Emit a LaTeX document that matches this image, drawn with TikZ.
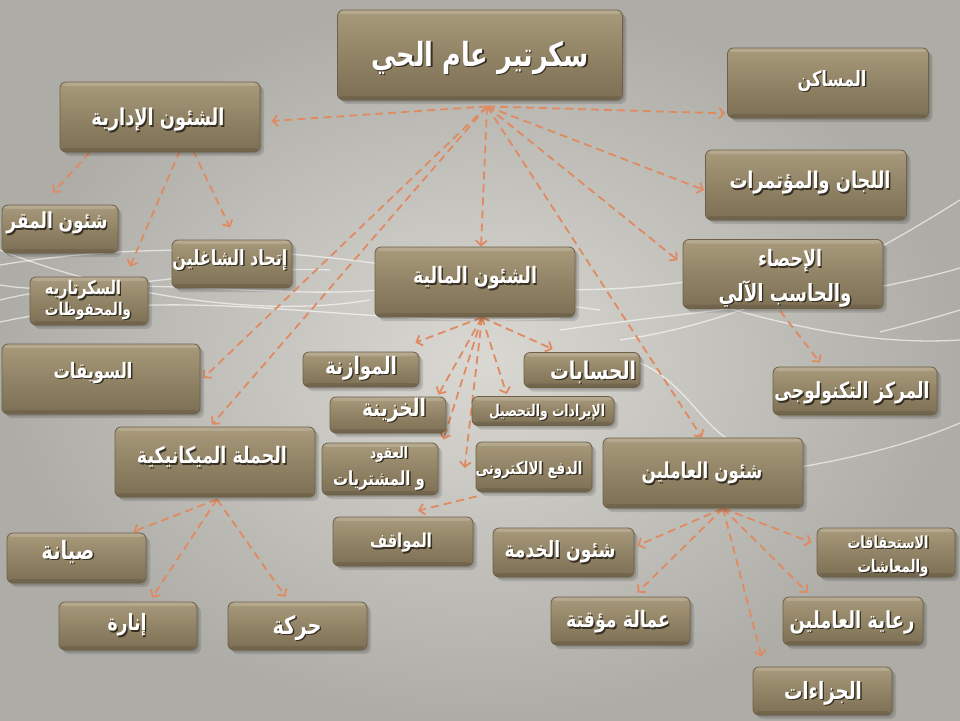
\documentclass[tikz,border=0pt]{standalone}
\usepackage{fontspec}
\usepackage{graphicx}
\newfontfamily\arfont[Script=Arabic]{DejaVu Sans}
\TeXXeTstate=1
\usetikzlibrary{arrows.meta}
\definecolor{arrowc}{RGB}{224,138,98}
\definecolor{boxtop}{RGB}{168,154,123}
\definecolor{boxmid}{RGB}{145,131,101}
\definecolor{boxbot}{RGB}{124,111,84}
\definecolor{boxedge}{RGB}{108,97,72}
\definecolor{bgin}{RGB}{218,216,211}
\definecolor{bgout}{RGB}{174,172,166}
\definecolor{txshadow}{RGB}{40,34,24}
\pgfdeclarelayer{bglayer}
\pgfdeclarelayer{arrlayer}
\pgfsetlayers{bglayer,arrlayer,main}
\tikzset{
  bx/.style={rectangle, rounded corners=6pt, draw=boxedge, line width=0.8pt,
    top color=boxtop, bottom color=boxbot, middle color=boxmid, inner sep=0pt,
    preaction={draw=none, fill=black, fill opacity=0.12, transform canvas={shift={(4pt,-4pt)}}},
    preaction={draw=none, fill=black, fill opacity=0.12, transform canvas={shift={(2pt,-2pt)}}},
    path picture={
      \fill[white, opacity=0.16] (path picture bounding box.north west) rectangle ([yshift=-4pt]path picture bounding box.north east);
      \fill[black, opacity=0.10] (path picture bounding box.south west) rectangle ([yshift=4pt]path picture bounding box.south east);}},
  txt/.style={text=white, inner sep=0pt},
  txtsh/.style={text=txshadow, inner sep=0pt, opacity=0.85},
  arr/.style={draw=arrowc, line width=1.8pt, dash pattern=on 8pt off 5pt,
    -{Straight Barb[length=5pt,width=11pt]}},
  swoosh/.style={draw=white, line width=1.3pt, opacity=0.6},
}
\newcommand\AT[2]{\scalebox{1}[1.3]{\resizebox{#1pt}{!}{\arfont\bfseries #2}}}
\newcommand\boxat[5]{\node[bx, minimum width=#4pt, minimum height=#5pt] (#1) at (#2,#3) {};}
\newcommand\lab[5]{%
  \node[txtsh] (#1s) at ([shift={(1.4,1.4)}]#2,#3) {\AT{#4}{#5}};
  \node[txt] (#1) at (#2,#3) {\AT{#4}{#5}};}
\begin{document}
\begin{tikzpicture}[x=1pt,y=-1pt]
\useasboundingbox (0,0) rectangle (960,720);
\begin{pgfonlayer}{bglayer}
  \shade[inner color=bgin, outer color=bgout] (0,0) rectangle (960,720);
  \draw[swoosh] (0,265) .. controls (150,240) and (300,250) .. (420,270) .. controls (500,285) and (560,300) .. (700,280);
  \draw[swoosh] (0,300) .. controls (120,270) and (260,300) .. (380,290) .. controls (460,284) and (520,300) .. (600,310);
  \draw[swoosh] (0,322) .. controls (200,280) and (350,330) .. (560,318);
  \draw[swoosh] (0,250) .. controls (100,290) and (250,320) .. (370,300);
  \draw[swoosh] (0,285) .. controls (90,300) and (200,265) .. (330,270);
  \draw[swoosh] (560,330) .. controls (700,310) and (850,300) .. (960,268);
  \draw[swoosh] (620,340) .. controls (760,320) and (880,250) .. (960,200);
  \draw[swoosh] (640,363) .. controls (680,380) and (700,420) .. (725,437);
  \draw[swoosh] (800,467) .. controls (870,455) and (920,440) .. (960,423);
  \draw[swoosh] (880,332) .. controls (920,322) and (940,316) .. (960,310);
  \draw[swoosh] (700,300) .. controls (800,330) and (880,345) .. (960,340);
\end{pgfonlayer}

\boxat{tit}{480}{55}{285}{90}
\boxat{mas}{828}{83}{201}{70}
\boxat{idr}{160}{117}{200}{70}
\boxat{lij}{806}{185}{201}{70}
\boxat{maq}{60}{229}{116}{48}
\boxat{itt}{232}{264}{120}{48}
\boxat{sec}{89}{301}{118}{48}
\boxat{mal}{475}{282}{200}{70}
\boxat{ihs}{783}{274}{200}{69}
\boxat{suw}{101}{379}{198}{70}
\boxat{muw}{361}{369.5}{116}{35}
\boxat{his}{582}{370}{116}{35}
\boxat{kha}{388}{415}{116}{36}
\boxat{ira}{543}{411}{142}{29}
\boxat{uqu}{380}{469}{116}{52}
\boxat{daf}{534}{467}{116}{50}
\boxat{ham}{215}{462}{200}{70}
\boxat{mrk}{855}{391}{164}{48}
\boxat{aml}{703}{473}{200}{70}
\boxat{ist}{886}{552.5}{138}{49}
\boxat{ria}{853}{621}{140}{48}
\boxat{jaz}{822.5}{691}{139}{48}
\boxat{khd}{563.5}{552.5}{141}{49}
\boxat{amq}{620.5}{621}{139}{48}
\boxat{mwq}{403}{541.5}{140}{49}
\boxat{siy}{76.5}{558}{139}{50}
\boxat{inr}{128}{626}{138}{48}
\boxat{hrk}{297.5}{626}{139}{48}

\lab{ttit}{480}{58}{218}{\beginR سكرتير عام الحي\endR}
\lab{tmas}{832}{81}{69}{\beginR المساكن\endR}
\lab{tidr}{158}{120}{133}{\beginR الشئون الإدارية\endR}
\lab{tlij}{810}{183}{161}{\beginR اللجان والمؤتمرات\endR}
\lab{tmaq}{57}{223}{101}{\beginR شئون المقر\endR}
\lab{titt}{230}{260}{115}{\beginR إتحاد الشاغلين\endR}
\lab{tsec1}{83}{290}{76}{\beginR السكرتاريه\endR}
\lab{tsec2}{88}{311}{86}{\beginR والمحفوظات\endR}
\lab{tmal}{475}{278}{124}{\beginR الشئون المالية\endR}
\lab{tihs1}{790}{261}{64}{\beginR الإحصاء\endR}
\lab{tihs2}{785}{294}{133}{\beginR والحاسب الآلي\endR}
\lab{tsuw}{93}{373}{79}{\beginR السويقات\endR}
\lab{tmuw}{361}{368}{72}{\beginR الموازنة\endR}
\lab{this}{593}{372}{86}{\beginR الحسابات\endR}
\lab{tkha}{394}{410}{64}{\beginR الخزينة\endR}
\lab{tira}{547}{412}{116}{\beginR الإيرادات والتحصيل\endR}
\lab{tuqu1}{389}{454}{38}{\beginR العقود\endR}
\lab{tuqu2}{379}{480}{92}{\beginR و المشتريات\endR}
\lab{tdaf}{529}{470}{107}{\beginR الدفع الالكترونى\endR}
\lab{tham}{212}{457}{150}{\beginR الحملة الميكانيكية\endR}
\lab{tmrk}{852}{393}{155}{\beginR المركز التكنولوجى\endR}
\lab{taml}{702}{473}{121}{\beginR شئون العاملين\endR}
\lab{tist1}{888}{542}{81}{\beginR الاستحقاقات\endR}
\lab{tist2}{893}{568}{71}{\beginR والمعاشات\endR}
\lab{tria}{852}{622}{125}{\beginR رعاية العاملين\endR}
\lab{tjaz}{823}{693}{78}{\beginR الجزاءات\endR}
\lab{tkhd}{560}{552}{111}{\beginR شئون الخدمة\endR}
\lab{tamq}{618}{622}{104}{\beginR عمالة مؤقتة\endR}
\lab{tmwq}{401}{543}{62}{\beginR المواقف\endR}
\lab{tsiy}{68}{552}{53}{\beginR صيانة\endR}
\lab{tinr}{127}{625}{39}{\beginR إنارة\endR}
\lab{thrk}{297}{628}{49}{\beginR حركة\endR}

\begin{pgfonlayer}{arrlayer}
  \coordinate (o1) at ([shift={(7,6)}]tit.south);
  \draw[arr] (o1) -- ([shift={(11,4)}]idr.east);
  \draw[arr] (o1) -- ([shift={(-2,-5)}]mas.south west);
  \draw[arr] (o1) -- ([shift={(-1,5)}]lij.west);
  \draw[arr] (o1) -- ([shift={(-5,21)}]ihs.north west);
  \draw[arr] (o1) -- ([shift={(6,0)}]mal.north);
  \draw[arr] (o1) -- ([shift={(-1,0)}]aml.north);
  \draw[arr] (o1) -- ([shift={(3,-1)}]suw.east);
  \draw[arr] (o1) -- ([shift={(-3,-2)}]ham.north);

  \draw[arr] ([shift={(-70,0)}]idr.south) -- ([shift={(-7,-12)}]maq.north);
  \draw[arr] ([shift={(20,-2)}]idr.south) -- ([shift={(41,-10)}]sec.north);
  \draw[arr] ([shift={(33,-2)}]idr.south) -- ([shift={(-2,-12)}]itt.north);

  \coordinate (o3) at ([shift={(7,0)}]mal.south);
  \draw[arr] (o3) -- ([shift={(-4,-9)}]muw.north east);
  \draw[arr] (o3) -- ([shift={(29,-3)}]his.north west);
  \draw[arr] (o3) -- ([shift={(-8,-2)}]kha.north east);
  \draw[arr] (o3) -- ([shift={(35,-2)}]ira.north west);
  \draw[arr] (o3) -- ([shift={(5,-3)}]uqu.north east);
  \draw[arr] (o3) -- ([shift={(-11,1)}]daf.west);

  \draw[arr] ([shift={(1,4)}]daf.south west) -- ([shift={(15,-6)}]mwq.north);
  \draw[arr] ([shift={(-3,2)}]ihs.south) -- ([shift={(-35,-4)}]mrk.north);

  \coordinate (o4) at ([shift={(2,2)}]ham.south);
  \draw[arr] (o4) -- ([shift={(-13,-1)}]siy.north east);
  \draw[arr] (o4) -- ([shift={(24,-4)}]inr.north);
  \draw[arr] (o4) -- ([shift={(-12,-5)}]hrk.north);

  \coordinate (o5) at ([shift={(20,0)}]aml.south);
  \draw[arr] (o5) -- ([shift={(3,-7)}]khd.east);
  \draw[arr] (o5) -- ([shift={(17,-4)}]amq.north);
  \draw[arr] (o5) -- ([shift={(-5,-10)}]ist.west);
  \draw[arr] (o5) -- ([shift={(25,-4)}]ria.north west);
  \draw[arr] (o5) -- ([shift={(9,-10)}]jaz.north west);
\end{pgfonlayer}
\end{tikzpicture}
\end{document}
